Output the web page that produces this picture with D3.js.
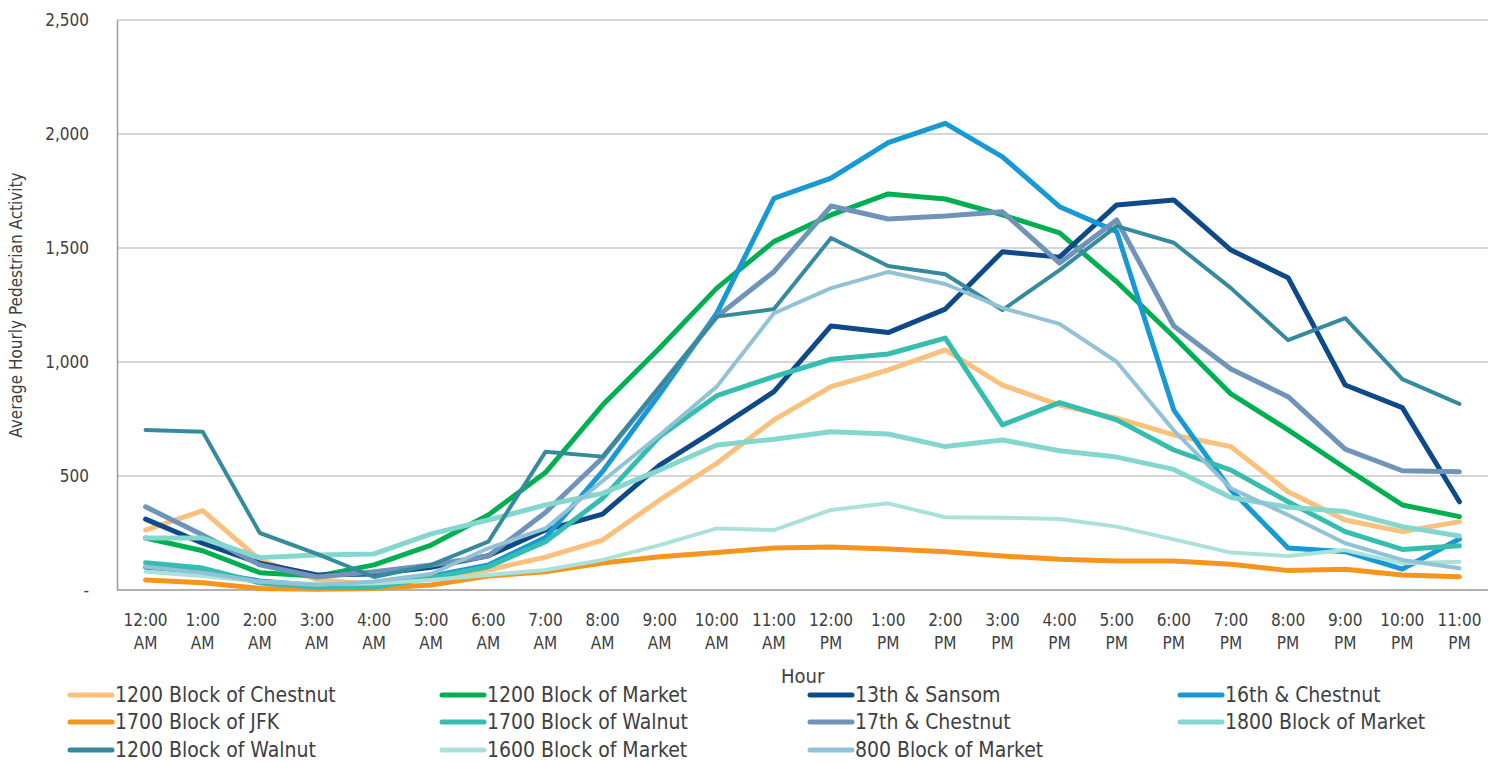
<!DOCTYPE html>
<html lang="en">
	<head>
		<meta charset="utf-8">
		<title>Average Hourly Pedestrian Activity</title>
		<script src="https://d3js.org/d3.v7.min.js"></script>
		<style type="text/css">
			body { margin: 0; background: #fff; }
			text { font-family: "Liberation Sans Narrow", "DejaVu Sans Condensed", sans-serif; fill: #404040; }
		</style>
	</head>
	<body>
		<script type="text/javascript">

			var hours = ["12:00 AM","1:00 AM","2:00 AM","3:00 AM","4:00 AM","5:00 AM","6:00 AM","7:00 AM","8:00 AM","9:00 AM","10:00 AM","11:00 AM",
						 "12:00 PM","1:00 PM","2:00 PM","3:00 PM","4:00 PM","5:00 PM","6:00 PM","7:00 PM","8:00 PM","9:00 PM","10:00 PM","11:00 PM"];

			var seriesNames = ["1200 Block of Chestnut","1200 Block of Market","13th & Sansom","16th & Chestnut",
							   "1700 Block of JFK","1700 Block of Walnut","17th & Chestnut","1800 Block of Market",
							   "1200 Block of Walnut","1600 Block of Market","800 Block of Market"];

			var seriesColors = ["#fac17c","#00b050","#0e4a8a","#1799d6",
								"#f7941d","#35bdb0","#7093ba","#84d7cf",
								"#368a9e","#aae2da","#92c2d6"];

			var chestnut1200 = [263,348,132,45,25,50,88,144,219,395,556,746,892,965,1053,899,811,754,680,629,431,307,256,300];
			var market1200   = [228,172,76,61,110,197,329,515,811,1061,1324,1528,1645,1737,1715,1645,1566,1352,1111,860,702,535,373,322];
			var sansom13     = [311,205,118,66,70,100,150,263,333,548,706,870,1158,1129,1232,1484,1460,1689,1711,1491,1370,899,800,387];
			var chestnut16   = [100,80,40,20,25,60,110,230,520,860,1214,1718,1806,1962,2047,1900,1681,1572,789,439,184,168,92,224];
			var jfk1700      = [44,32,7,3,7,22,61,80,118,146,164,184,189,180,168,149,135,127,127,113,85,91,66,58];
			var walnut1700   = [120,96,31,12,12,53,102,212,402,673,852,936,1012,1035,1105,724,822,746,614,526,387,256,178,194];
			var chestnut17   = [365,241,110,57,80,110,149,340,580,890,1199,1396,1684,1627,1640,1659,1434,1623,1158,969,848,618,523,519];
			var market1800   = [228,228,142,154,158,246,307,373,424,526,636,661,694,684,629,658,611,583,529,406,363,344,278,237];
			var walnut1200   = [702,694,250,158,57,110,212,606,585,890,1199,1232,1544,1421,1385,1228,1403,1596,1523,1324,1096,1192,925,816];
			var market1600   = [80,61,37,26,29,44,66,88,132,197,270,263,351,380,319,317,311,278,222,164,149,175,117,124];
			var market800    = [102,76,37,22,37,70,183,270,478,680,892,1214,1324,1395,1342,1237,1167,1001,700,446,329,205,132,95];

			var seriesValues = [chestnut1200, market1200, sansom13, chestnut16,
								jfk1700, walnut1700, chestnut17, market1800,
								walnut1200, market1600, market800];
			var seriesWidths = [5,5,5,5,5,5,5,5,4,4,4];

			var yTicks = [0,500,1000,1500,2000,2500];

			var w = 1502;
			var h = 762;
			var margin = {left: 117, right: 14, top: 20, bottom: 172};

			var svg = d3.select("body")
						.append("svg")
						.attr("width", w)
						.attr("height", h);

			var x = d3.scalePoint()
					  .domain(hours)
					  .range([margin.left, w - margin.right])
					  .padding(0.5);

			var y = d3.scaleLinear()
					  .domain([0, 2500])
					  .range([h - margin.bottom, margin.top]);

			//Gridlines
			svg.append("g")
			   .selectAll("line")
			   .data(yTicks.slice(1))
			   .enter()
			   .append("line")
			   .attr("x1", margin.left)
			   .attr("x2", w - margin.right)
			   .attr("y1", function (d) { return y(d); })
			   .attr("y2", function (d) { return y(d); })
			   .attr("stroke", "#c8c8c8")
			   .attr("stroke-width", 1.3);

			//Y axis
			var yAxis = d3.axisLeft(y)
						  .tickValues(yTicks)
						  .tickSize(0)
						  .tickPadding(28)
						  .tickFormat(function (d) { return d === 0 ? "-" : d3.format(",")(d); });

			svg.append("g")
			   .attr("transform", "translate(" + margin.left + ",0)")
			   .call(yAxis)
			   .call(function (g) {
			   		g.select(".domain").attr("stroke", "#9a9a9a").attr("stroke-width", 1.5);
			   		g.selectAll("text").style("font-size", "17px").attr("fill", "#404040");
			   });

			//X axis baseline
			svg.append("line")
			   .attr("x1", margin.left)
			   .attr("x2", w - margin.right)
			   .attr("y1", y(0))
			   .attr("y2", y(0))
			   .attr("stroke", "#9a9a9a")
			   .attr("stroke-width", 1.5);

			//X tick labels, two lines each
			var xLabels = svg.append("g")
							 .selectAll("text")
							 .data(hours)
							 .enter()
							 .append("text")
							 .attr("text-anchor", "middle")
							 .style("font-size", "17px")
							 .attr("transform", function (d) { return "translate(" + x(d) + "," + (y(0) + 36) + ")"; });

			xLabels.append("tspan")
				   .attr("x", 0)
				   .text(function (d) { return d.split(" ")[0]; });
			xLabels.append("tspan")
				   .attr("x", 0)
				   .attr("dy", 23)
				   .text(function (d) { return d.split(" ")[1]; });

			//Axis titles
			svg.append("text")
			   .attr("x", x("5:00 PM") - 314)
			   .attr("y", 683)
			   .attr("text-anchor", "middle")
			   .style("font-size", "20px")
			   .text("Hour");

			svg.append("text")
			   .attr("transform", "translate(22," + ((y(0) + y(2500)) / 2) + ") rotate(-90)")
			   .attr("text-anchor", "middle")
			   .style("font-size", "17px")
			   .text("Average Hourly Pedestrian Activity");

			//Lines
			var line = d3.line()
						 .x(function (d, i) { return x(hours[i]); })
						 .y(function (d) { return y(d); });

			svg.append("g")
			   .selectAll("path")
			   .data(seriesValues)
			   .enter()
			   .append("path")
			   .attr("d", line)
			   .attr("fill", "none")
			   .attr("stroke", function (d, i) { return seriesColors[i]; })
			   .attr("stroke-width", function (d, i) { return seriesWidths[i]; })
			   .attr("stroke-linejoin", "round")
			   .attr("stroke-linecap", "round");

			//Legend
			var legendCols = [68, 440, 808, 1178];
			var legendRows = [695, 722, 750];

			var legend = svg.append("g")
							.selectAll("g")
							.data(seriesNames)
							.enter()
							.append("g")
							.attr("transform", function (d, i) {
								return "translate(" + legendCols[i % 4] + "," + legendRows[Math.floor(i / 4)] + ")";
							});

			legend.append("line")
				  .attr("x1", 2)
				  .attr("x2", 44)
				  .attr("stroke", function (d, i) { return seriesColors[i]; })
				  .attr("stroke-width", 5)
				  .attr("stroke-linecap", "round");

			legend.append("text")
				  .attr("x", 47)
				  .attr("dy", "0.35em")
				  .style("font-size", "21px")
				  .text(function (d) { return d; });

		</script>
	</body>
</html>
